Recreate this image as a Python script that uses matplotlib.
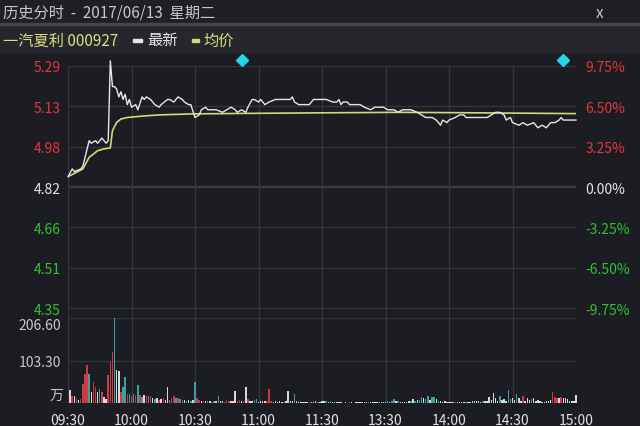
import matplotlib.pyplot as plt
from matplotlib.patches import Rectangle
from matplotlib.transforms import blended_transform_factory

plt.rcParams['font.family'] = ['Noto Sans CJK SC', 'DejaVu Sans']

# minutes since 09:30 (lunch break removed, 11:30 == 13:00 -> 120)
price_min = [0, 2, 3, 6, 7, 10, 11, 13, 14, 16, 18, 19, 20, 21, 22, 23, 24, 25, 26, 27,
             28, 29, 30, 32, 33, 35, 36, 37, 39, 41, 43, 44, 47, 48, 50, 52, 54, 55, 57, 58,
             60, 62, 63, 65, 66, 68, 70, 73, 75, 77, 79, 80, 82, 84, 85, 87, 88, 90, 91, 93,
             95, 98, 100, 102, 105, 106, 107, 109, 111, 114, 116, 117, 120, 122, 125, 127, 128, 129, 130, 132,
             133, 136, 138, 140, 143, 145, 147, 149, 151, 153, 154, 156, 158, 160, 162, 165, 167, 169, 172, 174,
             176, 177, 179, 180, 183, 185, 187, 188, 191, 195, 198, 200, 202, 204, 206, 207, 209, 210, 213, 215,
             217, 220, 222, 224, 226, 228, 230, 232, 233, 234, 236, 240]
price = [4.86, 4.89, 4.88, 4.89, 4.90, 5.00, 4.99, 5.00, 4.99, 5.01, 4.99, 5.00, 5.31, 5.21, 5.21, 5.20, 5.17, 5.19, 5.16, 5.18,
         5.14, 5.16, 5.13, 5.14, 5.12, 5.17, 5.16, 5.17, 5.16, 5.14, 5.13, 5.14, 5.16, 5.16, 5.15, 5.17, 5.16, 5.15, 5.14, 5.14,
         5.09, 5.10, 5.12, 5.13, 5.12, 5.12, 5.12, 5.11, 5.12, 5.13, 5.12, 5.11, 5.12, 5.11, 5.13, 5.16, 5.16, 5.15, 5.16, 5.14,
         5.15, 5.16, 5.16, 5.16, 5.16, 5.17, 5.15, 5.14, 5.14, 5.14, 5.16, 5.16, 5.16, 5.16, 5.15, 5.15, 5.16, 5.14, 5.15, 5.15,
         5.14, 5.14, 5.14, 5.13, 5.12, 5.13, 5.13, 5.13, 5.12, 5.12, 5.12, 5.11, 5.12, 5.12, 5.12, 5.11, 5.10, 5.09, 5.09, 5.08,
         5.06, 5.08, 5.07, 5.08, 5.09, 5.10, 5.10, 5.09, 5.09, 5.09, 5.09, 5.10, 5.11, 5.11, 5.10, 5.08, 5.09, 5.07, 5.06, 5.07,
         5.06, 5.07, 5.05, 5.06, 5.05, 5.07, 5.07, 5.08, 5.09, 5.08, 5.08, 5.08]

avg_min = [0, 4, 7, 10, 14, 17, 20, 21, 23, 25, 28, 36, 43, 59, 86, 119, 157, 195, 240]
avg_price = [4.86, 4.877, 4.89, 4.935, 4.961, 4.968, 4.972, 5.039, 5.071, 5.084, 5.090, 5.096,
             5.100, 5.104, 5.106, 5.108, 5.110, 5.108, 5.105]

# volume per minute, 万
vol = [0, 31, 17, 17, 12, 8, 10, 47, 71, 93,
       71, 27, 51, 39, 27, 35, 27, 15, 10, 67,
       100, 124, 206.6, 80, 78, 27, 39, 63, 23, 23,
       17, 23, 19, 43, 20, 15, 20, 17, 17, 17,
       12, 10, 12, 8, 10, 12, 8, 39, 8, 12,
       17, 12, 12, 10, 8, 8, 6, 8, 6, 8,
       52, 11, 8, 6, 5, 4, 6, 4, 3, 5,
       4, 18, 5, 4, 3, 8, 6, 5, 4, 30,
       5, 8, 4, 5, 38, 10, 6, 5, 8, 9,
       3, 4, 6, 5, 4, 33, 5, 3, 4, 3,
       4, 3, 3, 5, 28, 6, 4, 21, 5, 3,
       3, 2, 3, 2, 3, 2, 3, 4, 3, 2,
       6, 4, 5, 3, 4, 3, 2, 2, 2, 2,
       1, 2, 1, 2, 2, 1, 2, 2, 3, 2,
       3, 2, 3, 2, 3, 2, 2, 3, 2, 3,
       3, 4, 3, 6, 9, 5, 4, 3, 3, 2,
       3, 4, 5, 10, 6, 8, 7, 14, 12, 10,
       16, 8, 14, 15, 10, 6, 4, 3, 4, 3,
       2, 2, 3, 2, 2, 3, 2, 2, 3, 2,
       3, 4, 5, 4, 5, 3, 4, 6, 5, 15,
       8, 24, 12, 6, 17, 8, 10, 5, 32, 10,
       12, 8, 23, 12, 6, 17, 5, 12, 8, 10,
       12, 6, 8, 4, 3, 3, 4, 5, 8, 27,
       15, 12, 11, 14, 12, 13, 10, 6, 4, 4,
       20]
# u = up, d = down, f = flat
vol_dir = ("ffufufuuuu" "dfuufduffu" "uudffuddud" "udududfudu" "fdfufuffdu"
           "ududdfdfdf" "duufufdfud" "fdffduufff" "uufufuffdd" "ffffuuufff"
           "ffuffffdff" "ffffufffdf" "ffdfdfffff" "fffdffffff" "ffdffffdff"
           "fdfddfdfff" "ffdfdfddfd" "dfddfdffff" "fffdffffdf" "ffffffdfff"
           "ffffdfffdd" "ffdffufffd" "fffffffffu" "uufuffffff" "f")

pre_close = 4.82
pct_levels = [0.0975, 0.065, 0.0325, 0.0, -0.0325, -0.065, -0.0975]
vol_ticks = [103.3, 206.6]
time_ticks = [0, 30, 60, 90, 120, 150, 180, 210, 240]
time_labels = ['09:30', '10:00', '10:30', '11:00', '11:30', '13:30', '14:00', '14:30', '15:00']
event_min = [82, 234]

BG = '#1c1d22'
GRID = '#34353b'
RED = '#e5343c'
GREEN = '#2ec332'
TEAL = '#3d9ea6'
WHITE = '#e6e6e6'
YELLOW = '#d6d67a'
bar_colors = {'u': '#cf3a42', 'd': TEAL, 'f': '#d8d8d8'}

W, H = 640, 427
fig = plt.figure(figsize=(6.4, 4.27), dpi=100, facecolor=BG)

# header and legend strips
fig.add_artist(Rectangle((0, 1 - 25 / H), 1, 25 / H, transform=fig.transFigure, color='#1f2025', zorder=0))
fig.add_artist(Rectangle((0, 1 - 53 / H), 1, 27 / H, transform=fig.transFigure, color='#26272c', zorder=0))
fig.add_artist(Rectangle((0, 1 - 26 / H), 1, 2 / H, transform=fig.transFigure, color='#45464c', zorder=0))

fig.text(3 / W, 1 - 13 / H, '历史分时  -  2017/06/13  星期二', color='#c8c8c8', fontsize=11, va='center')
fig.text(600 / W, 1 - 13 / H, 'x', color='#c8c8c8', fontsize=11, ha='center', va='center')
fig.text(3 / W, 1 - 41 / H, '一汽夏利 000927', color='#dcdc80', fontsize=11, va='center')
fig.add_artist(Rectangle((133 / W, 1 - 43 / H), 9 / W, 3 / H, transform=fig.transFigure, color=WHITE))
fig.text(147 / W, 1 - 41 / H, '最新', color=WHITE, fontsize=11, va='center')
fig.add_artist(Rectangle((192 / W, 1 - 43 / H), 7 / W, 3 / H, transform=fig.transFigure, color=YELLOW))
fig.text(203 / W, 1 - 41 / H, '均价', color='#dcdc80', fontsize=11, va='center')

# price panel
ax = fig.add_axes([68 / W, (H - 319) / H, 508 / W, 252 / H])
ax.set_facecolor('none')
top = pre_close * (1 + pct_levels[0])
bot = pre_close * (1 + pct_levels[-1])
step = (top - bot) / 242
ax.set_xlim(0, 240)
ax.set_ylim(bot - 10 * step, top)
levels = [pre_close * (1 + p) for p in pct_levels]
ax.set_yticks(levels, [f'{v:.2f}' for v in levels])
ax.set_xticks(time_ticks)
ax.grid(True, color=GRID, lw=1)
ax.axhline(pre_close, color='#45464c', lw=1.6, zorder=1)
ax.tick_params(length=0, labelbottom=False, labelsize=10, pad=5)
for lbl, p in zip(ax.get_yticklabels(), pct_levels):
    lbl.set_color(RED if p > 0 else GREEN if p < 0 else WHITE)
for s in ax.spines.values():
    s.set_visible(False)

ax2 = ax.twinx()
ax2.set_ylim(ax.get_ylim())
ax2.set_yticks(levels, [f'{p * 100:.2f}%' for p in pct_levels])
ax2.tick_params(length=0, labelsize=10, pad=7)
for lbl, p in zip(ax2.get_yticklabels(), pct_levels):
    lbl.set_color(RED if p > 0 else GREEN if p < 0 else WHITE)
for s in ax2.spines.values():
    s.set_visible(False)

ax.plot(avg_min, avg_price, color=YELLOW, lw=1.2, zorder=3)
ax.plot(price_min, price, color=WHITE, lw=1.0, zorder=4, clip_on=False)
trans = blended_transform_factory(ax.transData, ax.transAxes)
ax.plot(event_min, [1.024] * len(event_min), 'D', color='#26d4e6', ms=6.5,
        transform=trans, clip_on=False, zorder=5)

# volume panel
axv = fig.add_axes([68 / W, (H - 404) / H, 508 / W, 85 / H])
axv.set_facecolor('none')
axv.set_xlim(0, 240)
axv.set_ylim(0, 206.6)
axv.bar(range(len(vol)), vol, width=0.7, color=[bar_colors[c] for c in vol_dir], clip_on=False, zorder=3)
axv.set_yticks(vol_ticks, [f'{v:.2f}' for v in vol_ticks])
axv.set_xticks(time_ticks, time_labels)
axv.grid(True, color=GRID, lw=1)
axv.tick_params(length=0, labelsize=10, colors='#c8c8c8')
axv.tick_params(axis='y', pad=5)
axv.tick_params(axis='x', pad=7, colors='#e0e0e0')
axv.get_yticklabels()[-1].set_va('top')
for s in axv.spines.values():
    s.set_visible(False)
fig.text(63 / W, 1 - 396 / H, '万', color='#c8c8c8', fontsize=10, ha='right', va='center')

fig.savefig('out.png', dpi=100, facecolor=BG)
